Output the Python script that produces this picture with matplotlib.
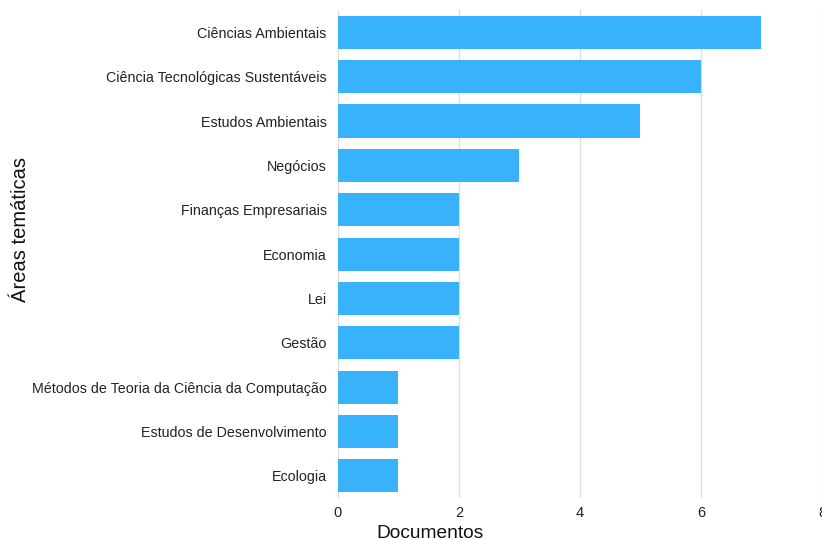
import matplotlib.pyplot as plt
import numpy as np

plt.rcParams['font.family'] = ['Liberation Sans', 'DejaVu Sans']

areas = [
    "Ciências Ambientais",
    "Ciência Tecnológicas Sustentáveis",
    "Estudos Ambientais",
    "Negócios",
    "Finanças Empresariais",
    "Economia",
    "Lei",
    "Gestão",
    "Métodos de Teoria da Ciência da Computação",
    "Estudos de Desenvolvimento",
    "Ecologia",
]
documentos = [7, 6, 5, 3, 2, 2, 2, 2, 1, 1, 1]
xticks = [0, 2, 4, 6, 8]

fig = plt.figure(figsize=(8.22, 5.39), dpi=100)
ax = fig.add_axes([0.411, 0.076, 0.589, 0.905])

y = np.arange(len(areas))
ax.barh(y, documentos, height=0.75, color='#38b3fb', zorder=3)

ax.set_ylim(len(areas) - 0.5, -0.5)
ax.set_xlim(0, 8)
ax.set_yticks(y)
ax.set_yticklabels(areas, fontsize=10.3, color='#222222')
ax.set_xticks(xticks)
ax.set_xticklabels([str(t) for t in xticks], fontsize=10.5, color='#222222')
ax.tick_params(axis='both', length=0)
ax.tick_params(axis='y', pad=8)
ax.tick_params(axis='x', pad=6)

ax.grid(axis='x', color='#dcdcdc', linewidth=0.9, zorder=0)
for s in ax.spines.values():
    s.set_visible(False)

ax.set_xlabel('Documentos', fontsize=13.8, color='#111111')
ax.xaxis.set_label_coords(0.19, -0.055)
ax.set_ylabel('Áreas temáticas', fontsize=14.5, color='#111111')
ax.yaxis.set_label_coords(-0.636, 0.55)

fig.savefig('out.png', dpi=100, facecolor='white')
